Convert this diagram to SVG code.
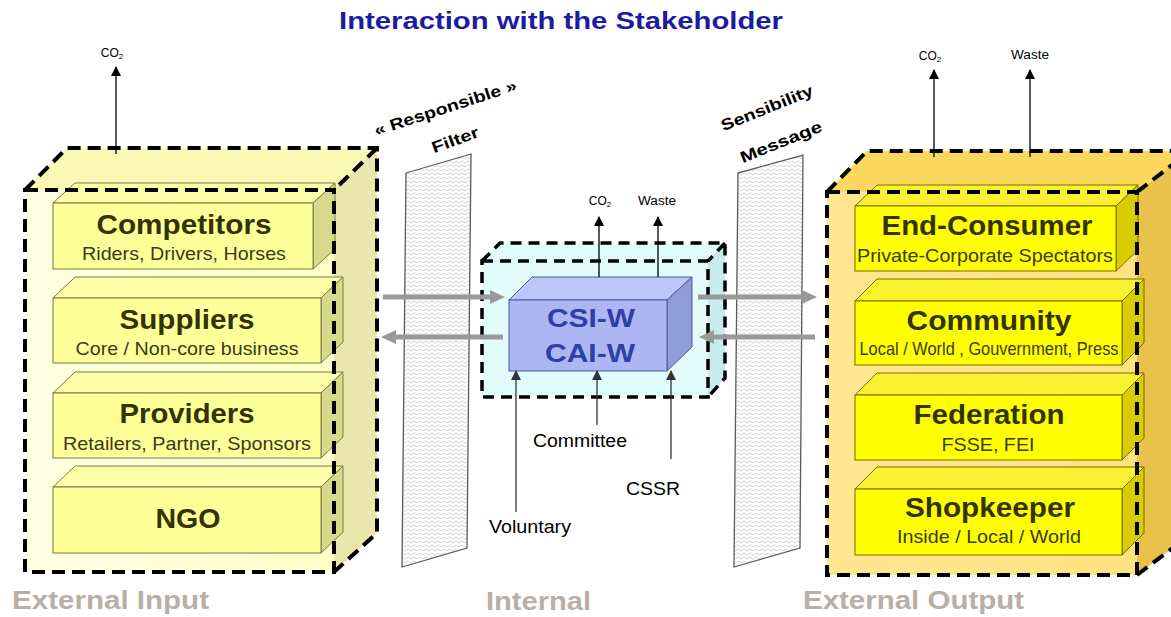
<svg xmlns="http://www.w3.org/2000/svg" width="1171" height="617" viewBox="0 0 1171 617">
<style>
text{font-family:"Liberation Sans",Arial,sans-serif}
.dash{fill:none;stroke:#000;stroke-width:4;stroke-dasharray:13 7;stroke-linejoin:miter}
.dashc{fill:none;stroke:#000;stroke-width:3.5;stroke-dasharray:11 7}
.ly-f{fill:#FFFF99;stroke:#7A7A48;stroke-width:1}
.ly-t{fill:#FFFFAA;stroke:#7A7A48;stroke-width:1}
.ly-r{fill:#D9D98C;stroke:#7A7A48;stroke-width:1}
.ry-f{fill:#FFFF00;stroke:#7A6C00;stroke-width:1}
.ry-t{fill:#FAF230;stroke:#7A6C00;stroke-width:1}
.ry-r{fill:#D9CC00;stroke:#7A6C00;stroke-width:1}
.t1{font-weight:bold;font-size:28px;fill:#333300;text-anchor:middle}
.t2{font-size:19px;fill:#3A3A18;text-anchor:middle}
.small{font-size:12px;fill:#000;text-anchor:middle}
.lbl{font-size:18px;fill:#000;text-anchor:middle}
.sec{font-weight:bold;font-size:25px;fill:#B8B0A6}
.rot{font-weight:bold;font-size:16px;fill:#000;text-anchor:middle}
.panel{fill:url(#wave);stroke:#5A5A5A;stroke-width:1.3}
.garr{stroke:#999;stroke-width:5;fill:none}
.barr{stroke:#000;stroke-width:1.3;fill:none}
.darr{stroke:#333;stroke-width:1.3;fill:none}
</style>
<defs>
<pattern id="wave" patternUnits="userSpaceOnUse" width="6" height="4">
<rect width="6" height="4" fill="#fff"/>
<path d="M0,1 L3,3 L6,1" fill="none" stroke="#C4C4C4" stroke-width="0.7"/>
</pattern>
<linearGradient id="lfront" x1="0" y1="0" x2="1" y2="0">
<stop offset="0" stop-color="#FFFFE4"/><stop offset="1" stop-color="#FFFFC6"/>
</linearGradient>
<linearGradient id="rfront" x1="0" y1="0" x2="1" y2="0">
<stop offset="0" stop-color="#FFE690"/><stop offset="1" stop-color="#FFE280"/>
</linearGradient>
<marker id="ga" markerUnits="userSpaceOnUse" viewBox="0 0 15 14" markerWidth="15" markerHeight="14" refX="4" refY="7" orient="auto">
<path d="M0,0 L15,7 L0,14 z" fill="#999"/>
</marker>
<marker id="ba" markerUnits="userSpaceOnUse" viewBox="0 0 10 10" markerWidth="10" markerHeight="10" refX="9" refY="5" orient="auto">
<path d="M0,0 L10,5 L0,10 z" fill="#000"/>
</marker>
<marker id="da" markerUnits="userSpaceOnUse" viewBox="0 0 10 10" markerWidth="10" markerHeight="10" refX="9" refY="5" orient="auto">
<path d="M0,0 L10,5 L0,10 z" fill="#333"/>
</marker>
</defs>
<rect width="1171" height="617" fill="#fff"/>

<text x="561" y="29" text-anchor="middle" font-weight="bold" font-size="23" fill="#1C1CA0" textLength="444" lengthAdjust="spacingAndGlyphs">Interaction with the Stakeholder</text>

<!-- Left container -->
<g id="external-input">
<polygon points="25,190 67,148 377,148 334,190" fill="#FBF8B6"/>
<polygon points="334,190 377,148 377,533 334,572" fill="#EBE7AC"/>
<rect x="25" y="190" width="309" height="382" fill="url(#lfront)"/>
<g id="competitors">
<polygon class="ly-t" points="53,203 75,183 335,183 313,203"/>
<polygon class="ly-r" points="313,203 335,183 335,249 313,269"/>
<rect class="ly-f" x="53" y="203" width="260" height="66"/>
<text class="t1" x="184" y="234" textLength="175" lengthAdjust="spacingAndGlyphs">Competitors</text>
<text class="t2" x="184" y="260" textLength="204" lengthAdjust="spacingAndGlyphs">Riders, Drivers, Horses</text>
</g>
<g id="suppliers">
<polygon class="ly-t" points="53,298 75,277 343,277 321,298"/>
<polygon class="ly-r" points="321,298 343,277 343,342 321,363"/>
<rect class="ly-f" x="53" y="298" width="268" height="65"/>
<text class="t1" x="187" y="329" textLength="135" lengthAdjust="spacingAndGlyphs">Suppliers</text>
<text class="t2" x="187" y="355" textLength="223" lengthAdjust="spacingAndGlyphs">Core / Non-core business</text>
</g>
<g id="providers">
<polygon class="ly-t" points="53,393 75,372 343,372 321,393"/>
<polygon class="ly-r" points="321,393 343,372 343,437 321,458"/>
<rect class="ly-f" x="53" y="393" width="268" height="65"/>
<text class="t1" x="187" y="423" textLength="135" lengthAdjust="spacingAndGlyphs">Providers</text>
<text class="t2" x="187" y="450" textLength="248" lengthAdjust="spacingAndGlyphs">Retailers, Partner, Sponsors</text>
</g>
<g id="ngo">
<polygon class="ly-t" points="53,487 75,466 343,466 321,487"/>
<polygon class="ly-r" points="321,487 343,466 343,532 321,553"/>
<rect class="ly-f" x="53" y="487" width="268" height="66"/>
<text class="t1" x="188" y="528" textLength="65" lengthAdjust="spacingAndGlyphs">NGO</text>
</g>
<path class="dash" d="M25,190 L67,148 L377,148 L377,533 L334,572 M377,148 L334,190"/>
<rect class="dash" x="25" y="190" width="309" height="382"/>
<text class="sec" x="12" y="609" textLength="197" lengthAdjust="spacingAndGlyphs">External Input</text>
</g>

<!-- Filter panels -->
<g id="filter-panel">
<polygon class="panel" points="406,173 471,154 467,548 402,567"/>
<text class="rot" transform="translate(447,113) rotate(-18)" textLength="149" lengthAdjust="spacingAndGlyphs">« Responsible »</text>
<text class="rot" transform="translate(457,145) rotate(-20)" textLength="49" lengthAdjust="spacingAndGlyphs">Filter</text>
</g>
<g id="message-panel">
<polygon class="panel" points="738,173 803,155 800,548 734,567"/>
<text class="rot" transform="translate(769,113) rotate(-22)" textLength="98" lengthAdjust="spacingAndGlyphs">Sensibility</text>
<text class="rot" transform="translate(783,147) rotate(-22)" textLength="87" lengthAdjust="spacingAndGlyphs">Message</text>
</g>

<!-- Center container -->
<g id="internal">
<polygon points="482,261 500,243 725,243 708,261" fill="#E0FCFC"/>
<polygon points="708,261 725,243 725,378 708,397" fill="#C8ECEC"/>
<rect x="482" y="261" width="226" height="136" fill="#E2FCFC"/>
<path class="dashc" d="M482,261 L500,243 L725,243 L725,378 L708,397 M725,243 L708,261"/>
<rect class="dashc" x="482" y="261" width="226" height="136"/>
<text class="sec" x="486" y="610" textLength="105" lengthAdjust="spacingAndGlyphs">Internal</text>
</g>

<g id="csi-w">
<polygon points="509,300 532,277 692,277 667,300" fill="#BCC7F8" stroke="#4F5A9A" stroke-width="1"/>
<polygon points="667,300 692,277 692,347 667,371" fill="#8F9CD8" stroke="#4F5A9A" stroke-width="1"/>
<rect x="509" y="300" width="158" height="71" fill="#ABB6F2" stroke="#4F5A9A" stroke-width="1"/>
<text x="591" y="327" text-anchor="middle" font-weight="bold" font-size="26" fill="#2F3FA8" textLength="88" lengthAdjust="spacingAndGlyphs">CSI-W</text>
<text x="590" y="362" text-anchor="middle" font-weight="bold" font-size="26" fill="#2F3FA8" textLength="90" lengthAdjust="spacingAndGlyphs">CAI-W</text>
</g>

<!-- Right container -->
<g id="external-output">
<polygon points="827,192 867,151 1190,151 1137,192" fill="#FCD95E"/>
<polygon points="1137,192 1190,151 1190,535 1137,575" fill="#E9C24C"/>
<rect x="827" y="192" width="310" height="383" fill="url(#rfront)"/>
<g id="end-consumer">
<polygon class="ry-t" points="855,206 877,185 1138,185 1116,206"/>
<polygon class="ry-r" points="1116,206 1138,185 1138,250 1116,271"/>
<rect class="ry-f" x="855" y="206" width="261" height="65"/>
<text class="t1" x="987" y="235" textLength="211" lengthAdjust="spacingAndGlyphs">End-Consumer</text>
<text class="t2" x="985" y="262" textLength="256" lengthAdjust="spacingAndGlyphs">Private-Corporate Spectators</text>
</g>
<g id="community">
<polygon class="ry-t" points="855,301 877,279 1144,279 1122,301"/>
<polygon class="ry-r" points="1122,301 1144,279 1144,343 1122,365"/>
<rect class="ry-f" x="855" y="301" width="267" height="64"/>
<text class="t1" x="989" y="330" textLength="165" lengthAdjust="spacingAndGlyphs">Community</text>
<text class="t2" x="989" y="355" textLength="259" lengthAdjust="spacingAndGlyphs">Local / World , Gouvernment, Press</text>
</g>
<g id="federation">
<polygon class="ry-t" points="855,395 877,373 1144,373 1122,395"/>
<polygon class="ry-r" points="1122,395 1144,373 1144,438 1122,460"/>
<rect class="ry-f" x="855" y="395" width="267" height="65"/>
<text class="t1" x="989" y="424" textLength="151" lengthAdjust="spacingAndGlyphs">Federation</text>
<text class="t2" x="988" y="451" textLength="93" lengthAdjust="spacingAndGlyphs">FSSE, FEI</text>
</g>
<g id="shopkeeper">
<polygon class="ry-t" points="855,489 877,467 1144,467 1122,489"/>
<polygon class="ry-r" points="1122,489 1144,467 1144,533 1122,555"/>
<rect class="ry-f" x="855" y="489" width="267" height="66"/>
<text class="t1" x="990" y="517" textLength="170" lengthAdjust="spacingAndGlyphs">Shopkeeper</text>
<text class="t2" x="989" y="543" textLength="184" lengthAdjust="spacingAndGlyphs">Inside / Local / World</text>
</g>
<path class="dash" d="M827,192 L867,151 L1190,151 M1137,192 L1190,151 M1137,575 L1190,535"/>
<rect class="dash" x="827" y="192" width="310" height="383"/>
<text class="sec" x="803" y="609" textLength="221" lengthAdjust="spacingAndGlyphs">External Output</text>
</g>

<!-- Connectors -->
<g id="connectors">
<line class="garr" x1="383" y1="297" x2="494" y2="297" marker-end="url(#ga)"/>
<line class="garr" x1="503" y1="337" x2="392" y2="337" marker-end="url(#ga)"/>
<line class="garr" x1="698" y1="297" x2="806" y2="297" marker-end="url(#ga)"/>
<line class="garr" x1="815" y1="337" x2="710" y2="337" marker-end="url(#ga)"/>
<line class="barr" x1="116" y1="154" x2="116" y2="67" marker-end="url(#ba)"/>
<line class="barr" x1="599" y1="277" x2="599" y2="217" marker-end="url(#ba)"/>
<line class="barr" x1="658" y1="277" x2="658" y2="217" marker-end="url(#ba)"/>
<line class="barr" x1="934" y1="157" x2="934" y2="70" marker-end="url(#ba)"/>
<line class="barr" x1="1030" y1="157" x2="1030" y2="70" marker-end="url(#ba)"/>
<line class="darr" x1="516" y1="512" x2="516" y2="371" marker-end="url(#da)"/>
<line class="darr" x1="597" y1="425" x2="597" y2="371" marker-end="url(#da)"/>
<line class="darr" x1="671" y1="459" x2="671" y2="371" marker-end="url(#da)"/>
</g>

<g id="labels">
<text class="small" x="112" y="57">CO<tspan font-size="8" dy="2">2</tspan></text>
<text class="small" x="600" y="205">CO<tspan font-size="8" dy="2">2</tspan></text>
<text class="small" x="657" y="205" textLength="38" lengthAdjust="spacingAndGlyphs">Waste</text>
<text class="small" x="930" y="60">CO<tspan font-size="8" dy="2">2</tspan></text>
<text class="small" x="1030" y="59" textLength="38" lengthAdjust="spacingAndGlyphs">Waste</text>
<text class="lbl" x="580" y="447" textLength="94" lengthAdjust="spacingAndGlyphs">Committee</text>
<text class="lbl" x="653" y="495" textLength="54" lengthAdjust="spacingAndGlyphs">CSSR</text>
<text class="lbl" x="530" y="533" textLength="82" lengthAdjust="spacingAndGlyphs">Voluntary</text>
</g>
</svg>
